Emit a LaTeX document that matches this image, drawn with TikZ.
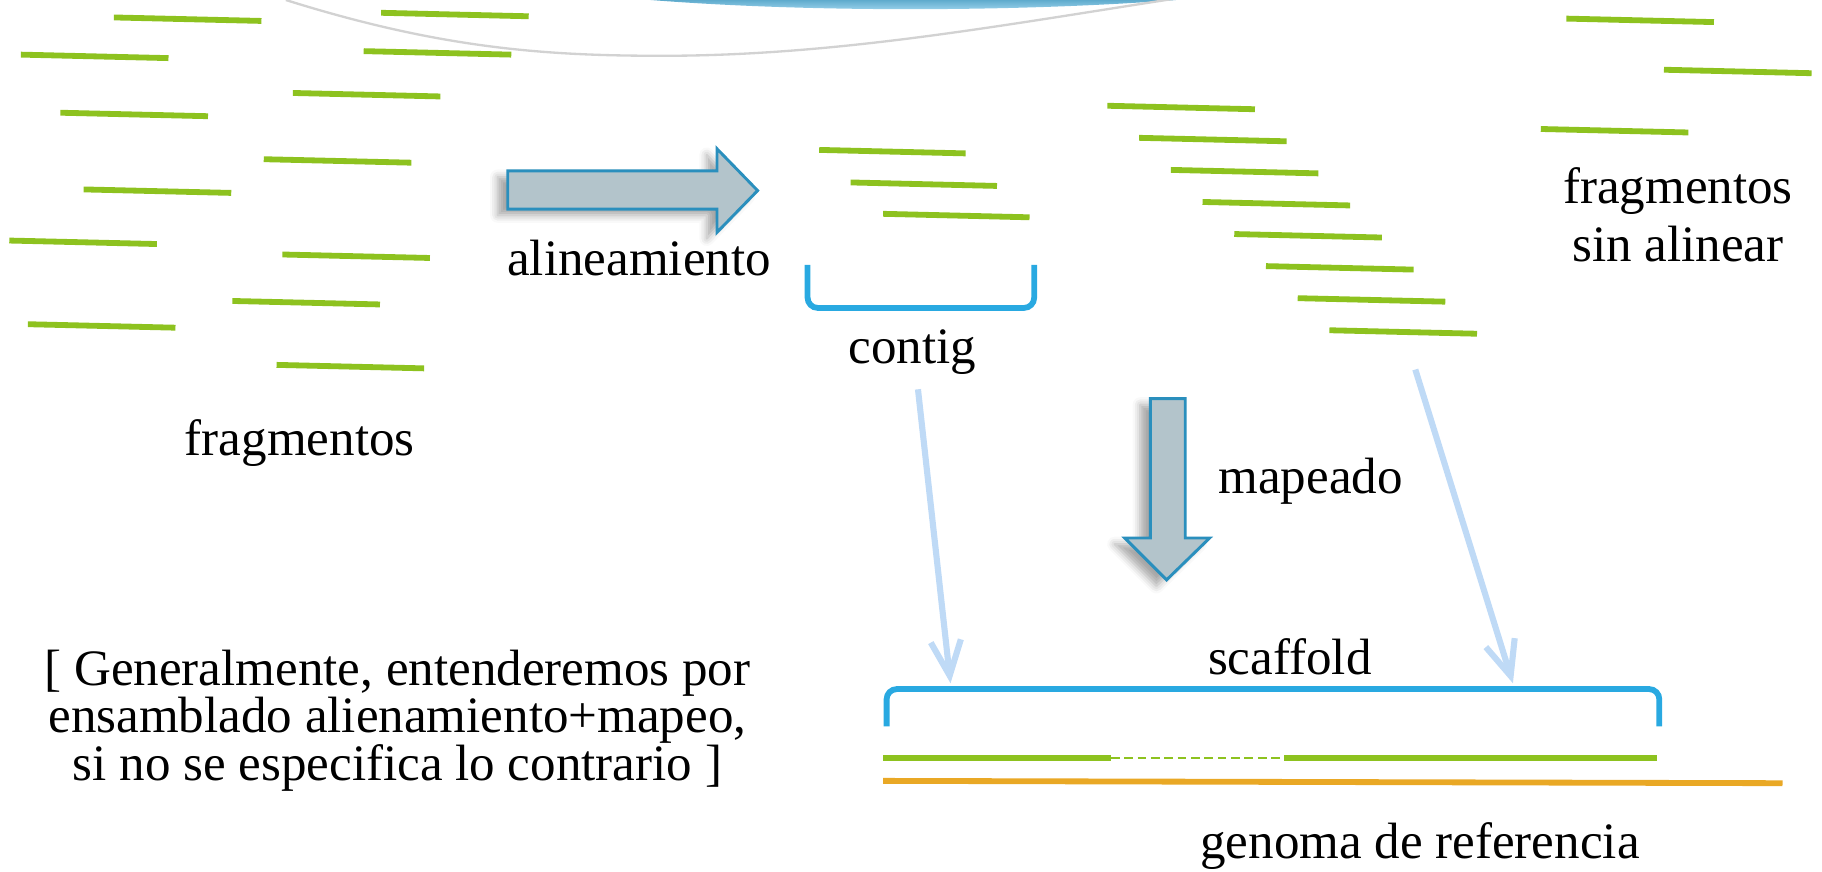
\documentclass[tikz,border=0pt]{standalone}
\usepackage{fontspec}
\setmainfont{Liberation Serif}
\usetikzlibrary{shadows.blur, arrows.meta}
\definecolor{fragcol}{HTML}{8DC21F}
\definecolor{bracecol}{HTML}{29A9E1}
\definecolor{refcol}{HTML}{E9A825}
\definecolor{mapcol}{HTML}{BFDAF6}
\definecolor{bodycol}{HTML}{B3C4CB}
\definecolor{edgecol}{HTML}{2A8FBD}
\begin{document}
\begin{tikzpicture}[x=0.1mm, y=-0.1mm,
  frag/.style={fragcol, line width=0.5mm},
  brace/.style={bracecol, line width=0.5mm, rounded corners=2.5pt},
  blockarrow/.style={draw=edgecol, line width=0.25mm, fill=bodycol,
    blur shadow={shadow xshift=-2.5pt, shadow yshift=-1.5pt, shadow opacity=35}},
  maparrow/.style={mapcol, line width=1.5pt, -{Straight Barb[length=3mm, width=2.6mm]}},
  lbl/.style={font=\fontsize{12.5}{14}\selectfont, inner sep=0pt}]
  \useasboundingbox (0,0) rectangle (1568,749.6);

  % trozo de figura cortado arriba
  \shade[top color=edgecol!75, bottom color=bracecol!40] (560,0) .. controls (700,11) and (880,10) .. (1012,0) -- cycle;
  \draw[gray!35, line width=0.2mm] (246,0) .. controls (380,42) and (470,48) .. (570,48)
    .. controls (720,48) and (860,22) .. (1010,-1);

  % fragmentos sueltos
  \foreach \x/\y in {98/15, 328/11, 18/47, 313/44, 52/97, 252/80, 227/137, 72/163,
                     8/207, 243/219, 200/259, 24/279, 238/314}
    \draw[frag] (\x,\y) -- ++(127,3);
  \node[lbl] (frags) at (258,381) {fragmentos};

  % alineamiento
  \draw[blockarrow] (437,147) -- (617,147) -- (617,128) -- (652,164) -- (617,200)
    -- (617,180) -- (437,180) -- cycle;
  \node[lbl] (align) at (550,222) {alineamiento};

  % contig
  \foreach \x/\y in {705/129, 732/157, 760/184}
    \draw[frag] (\x,\y) -- ++(126,3);
  \draw[brace] (695,228) |- (890,265) -- (890,228);
  \node[lbl] (contig) at (785,303) {contig};

  % fragmentos sin alinear
  \foreach \i in {0,...,7}
    \draw[frag] (953+27.3*\i,91+27.6*\i) -- ++(127,3);
  \foreach \x/\y in {1348/16, 1432/60, 1326/111}
    \draw[frag] (\x,\y) -- ++(127,3);
  \node[lbl, align=center, font=\fontsize{12.5}{14.2}\selectfont] (unaligned) at (1444,185)
    {fragmentos\\sin alinear};

  % mapeado
  \draw[blockarrow] (990,343) -- (1020,343) -- (1020,463) -- (1041,463) -- (1004,499)
    -- (968,463) -- (990,463) -- cycle;
  \node[lbl] (map) at (1128,414) {mapeado};

  \coordinate (contigfoot) at (790,335);
  \coordinate (readsfoot) at (1218,318);
  \coordinate (scafL) at (818,588);
  \coordinate (scafR) at (1302,588);
  \draw[maparrow] (contigfoot) -- (scafL);
  \draw[maparrow] (readsfoot) -- (scafR);

  % scaffold
  \node[lbl] (scaffold) at (1110,565) {scaffold};
  \draw[brace] (763,625) |- (1428,593) -- (1428,625);
  \draw[frag] (760,652) -- (956,652);
  \draw[fragcol, line width=0.18mm, dash pattern=on 0.75mm off 0.4mm] (956,652) -- (1105,652);
  \draw[frag] (1105,652) -- (1426,652);
  \draw[refcol, line width=0.5mm] (760,672) -- (1534,674);
  \node[lbl] (genome) at (1222,728) {genoma de referencia};

  % nota
  \node[lbl, align=center, font=\fontsize{12.5}{11.6}\selectfont] (note) at (342,620)
    {[ Generalmente, entenderemos por\\ensamblado alienamiento+mapeo,\\si no se especifica lo contrario ]};
\end{tikzpicture}
\end{document}
